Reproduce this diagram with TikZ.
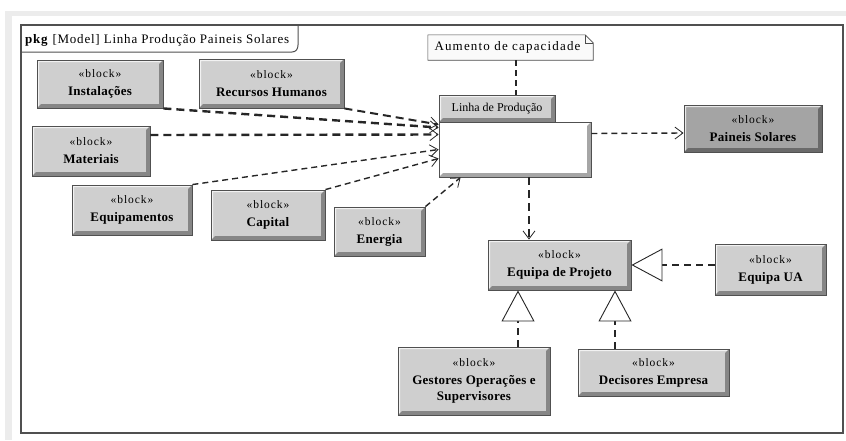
\documentclass[tikz,border=0pt]{standalone}
\usepackage{fontspec}
\setmainfont{Liberation Serif}
\usetikzlibrary{arrows.meta,calc}
\definecolor{blockgray}{HTML}{CFCFCF}
\definecolor{darkblock}{HTML}{A4A4A4}
\definecolor{framecol}{HTML}{505050}
\newcommand\blk[1]{{\normalfont\fontsize{11.5}{12}\selectfont\addfontfeatures{LetterSpace=8}«block»}\\[2pt]#1}
\tikzset{
  bevel/.style={path picture={
    \fill[white,opacity=0.75] (path picture bounding box.south west) -- (path picture bounding box.north west) -- (path picture bounding box.north east) -- ([xshift=-2pt,yshift=-2pt]path picture bounding box.north east) -- ([xshift=2pt,yshift=-2pt]path picture bounding box.north west) -- ([xshift=2pt,yshift=2pt]path picture bounding box.south west) -- cycle;
    \fill[black,opacity=0.35] (path picture bounding box.south west) -- (path picture bounding box.south east) -- (path picture bounding box.north east) -- ([xshift=-4pt,yshift=-4pt]path picture bounding box.north east) -- ([xshift=-4pt,yshift=4pt]path picture bounding box.south east) -- ([xshift=4pt,yshift=4pt]path picture bounding box.south west) -- cycle;
  }},
  block/.style={draw=framecol, line width=0.9pt, fill=blockgray, bevel, align=center, inner sep=0pt,
    font=\bfseries\fontsize{13}{16}\selectfont\addfontfeatures{LetterSpace=2}},
  notebox/.style={inner sep=0pt, minimum width=165pt, minimum height=25pt,
    font=\fontsize{13}{14}\selectfont\addfontfeatures{LetterSpace=9}},
  dep/.style={draw=black!85, line width=1.4pt, dash pattern=on 6pt off 4pt,
    -{Straight Barb[length=8pt,width=12pt,line width=0.8pt]}},
  depthick/.style={dep, line width=2.4pt, dash pattern=on 8pt off 5pt},
  gen/.style={draw=black!85, line width=1.4pt, dash pattern=on 7pt off 5pt,
    -{Triangle[length=31pt,width=33pt,fill=white,line width=0.9pt]}},
}
\begin{document}
\begin{tikzpicture}[x=1pt,y=-1pt]
\useasboundingbox (0,0) rectangle (846,440);
% light background bands
\fill[gray!15] (5,11) rectangle (846,16);
\fill[gray!15] (5,11) rectangle (12,440);
% frame
\draw[framecol, line width=1.5pt] (21,25) rectangle (843,433);
% title tab
\draw[framecol, line width=1pt] (21,52) -- (292,52) .. controls (296,52) and (298,49) .. (298,45) -- (298,25);
\node[anchor=west, inner sep=0pt, font=\fontsize{13}{14}\selectfont\addfontfeatures{LetterSpace=6}] (title) at (25,40) {\textbf{pkg} [Model] Linha Produção Paineis Solares};

% note
\node[notebox] (note) at (510.5,47.5) {};
\draw[gray!60!black, fill=gray!4, line width=0.6pt] (note.south west) -- (note.north west) -- ([xshift=-8pt]note.north east) -- ([yshift=-8pt]note.north east) -- (note.south east) -- cycle;
\draw[gray!60!black, line width=0.6pt] ([xshift=-8pt]note.north east) -- ([xshift=-8pt,yshift=-8pt]note.north east) -- ([yshift=-8pt]note.north east);
\node[inner sep=0pt, font=\fontsize{13}{14}\selectfont\addfontfeatures{LetterSpace=9}] (notetext) at ([xshift=-3pt]note.center) {Aumento de capacidade};

% blocks
\node[block, minimum width=126pt, minimum height=48pt] (inst) at (100,84) {\blk{Instalações}};
\node[block, minimum width=145pt, minimum height=49pt] (rh) at (271.5,83.5) {\blk{Recursos Humanos}};
\node[block, minimum width=118pt, minimum height=50pt] (mat) at (91,151) {\blk{Materiais}};
\node[block, minimum width=120pt, minimum height=50pt] (equip) at (132,210) {\blk{Equipamentos}};
\node[block, minimum width=114pt, minimum height=50pt] (cap) at (268,215) {\blk{Capital}};
\node[block, minimum width=91pt, minimum height=49pt] (ener) at (379.5,231.5) {\blk{Energia}};
\node[block, fill=darkblock, minimum width=138pt, minimum height=47pt] (paineis) at (753,128.5) {\blk{Paineis Solares}};
\node[block, minimum width=143pt, minimum height=50pt] (eqp) at (559.5,265) {\blk{Equipa de Projeto}};
\node[block, minimum width=111pt, minimum height=51pt] (equa) at (770.5,269.5) {\blk{Equipa UA}};
\node[block, minimum width=152pt, minimum height=68pt] (gest) at (474,381) {\blk{Gestores Operações e\\Supervisores}};
\node[block, minimum width=151pt, minimum height=47pt] (dec) at (653.5,372.5) {\blk{Decisores Empresa}};

% Linha de Producao part
\node[block, font=\fontsize{12}{13}\selectfont, minimum width=116pt, minimum height=27pt] (linhatab) at (497,108.5) {Linha de Produção};
\node[block, fill=white, minimum width=152pt, minimum height=55pt] (linha) at (515,149.5) {};

% note anchor line
\draw[black!85, line width=1.2pt, dash pattern=on 6pt off 4pt] ([xshift=5.5pt]note.south) -- ([xshift=19pt]linhatab.north);

% dependencies into Linha de Producao
\draw[depthick] (inst.south east) -- ([yshift=22pt]linha.west);
\draw[depthick, line width=2pt] (rh.south east) -- ([yshift=25pt]linha.west);
\draw[depthick] ([yshift=16pt]mat.east) -- ([yshift=15pt]linha.west);
\draw[dep] (equip.north east) -- ([yshift=0pt]linha.west);
\draw[dep] (cap.north east) -- ([yshift=-9pt]linha.west);
\draw[dep] (ener.north east) -- ([xshift=22pt]linha.south west);

% outgoing
\draw[dep] ([yshift=16pt]linha.east) -- ([yshift=-4.5pt]paineis.west);
\draw[depthick] ([xshift=14pt]linha.south) -- ([xshift=-30.5pt]eqp.north);

% generalisations
\draw[gen] ([yshift=4.5pt]equa.west) -- (eqp.east);
\draw[gen] ([xshift=44pt]gest.north) -- ([xshift=-41.5pt]eqp.south);
\draw[gen, line width=2.4pt] ([xshift=-38.5pt]dec.north) -- ([xshift=55.5pt]eqp.south);
\end{tikzpicture}
\end{document}
